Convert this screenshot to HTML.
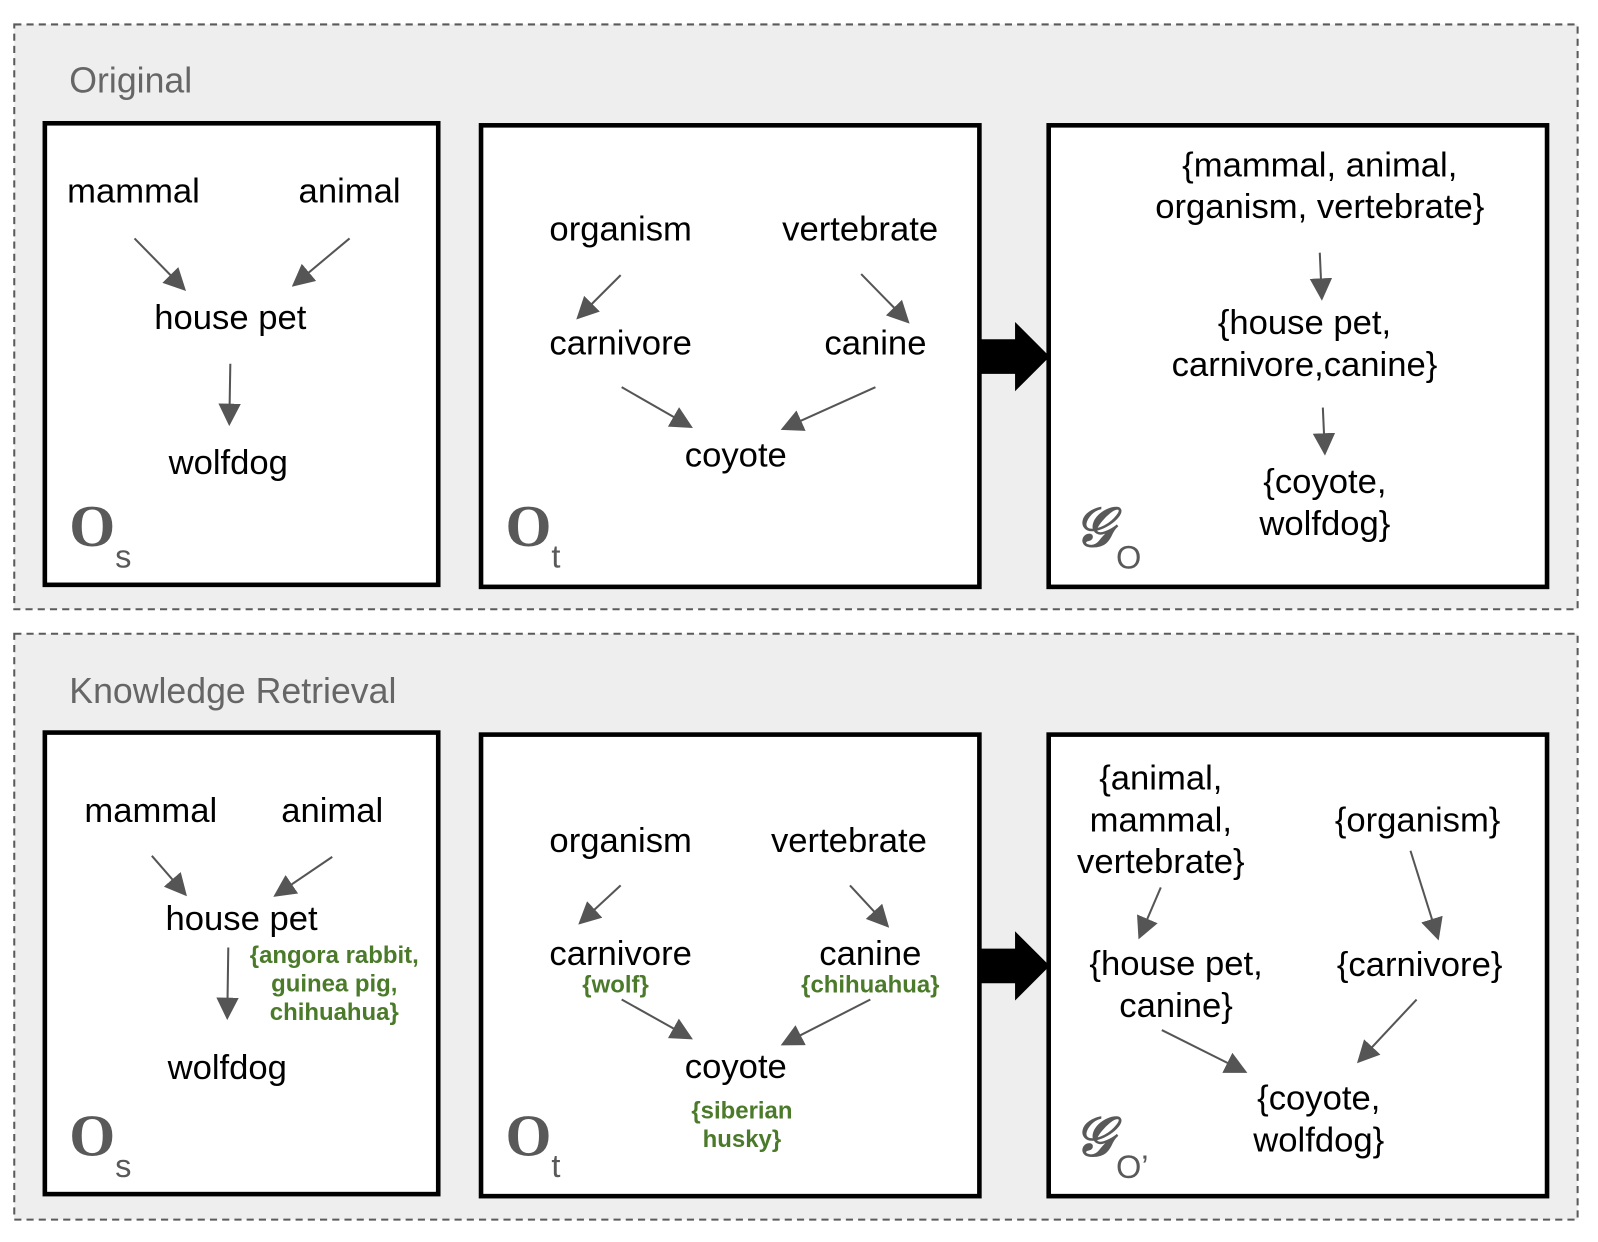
<!DOCTYPE html>
<html><head><meta charset="utf-8"><style>
html,body{margin:0;padding:0;background:#fff}
svg{display:block}
text{font-family:"Liberation Sans",sans-serif}
.t{font-size:34px;fill:#000;text-anchor:middle}
.g{font-size:23.5px;fill:#4a7a2a;font-weight:bold;text-anchor:middle}
.h{font-size:35px;fill:#666}
.big{font-family:"Liberation Serif",serif;font-weight:bold;font-size:58px;fill:#595959}
.sub{font-size:32px;fill:#595959}
.cal{font-family:"DejaVu Serif",serif;font-style:italic;font-weight:bold;font-size:54px;fill:#595959}
.b{fill:#fff;stroke:#000;stroke-width:4.5}
.a{stroke:#555;stroke-width:2;marker-end:url(#ah2)}
</style></head><body>
<svg width="1598" height="1242" viewBox="0 0 1568 1219" preserveAspectRatio="none" xmlns="http://www.w3.org/2000/svg">
<defs>
<marker id="ah2" viewBox="0 0 10 10" refX="9" refY="5" markerWidth="22" markerHeight="22" orient="auto" markerUnits="userSpaceOnUse"><path d="M0,0 L10,5 L0,10 z" fill="#555"/></marker></defs>
<rect x="14" y="24" width="1534" height="574" fill="#eeeeee" stroke="#5a5a5a" stroke-width="2" stroke-dasharray="7,5"/>
<rect x="14" y="622" width="1534" height="575" fill="#eeeeee" stroke="#5a5a5a" stroke-width="2" stroke-dasharray="7,5"/>
<text class="h" x="68" y="91">Original</text>
<text class="h" x="68" y="690">Knowledge Retrieval</text>

<rect class="b" x="44" y="121" width="386" height="453"/>
<rect class="b" x="472" y="123" width="489" height="453"/>
<rect class="b" x="1029" y="123" width="489" height="453"/>
<rect class="b" x="44" y="719" width="386" height="453"/>
<rect class="b" x="472" y="721" width="489" height="453"/>
<rect class="b" x="1029" y="721" width="489" height="453"/>

<path d="M961,333 H996 V316 L1030,350 L996,384 V367 H961 Z" fill="#000"/>
<path d="M961,931 H996 V914 L1030,948 L996,982 V965 H961 Z" fill="#000"/>

<text class="big" x="68" y="536">O</text><text class="sub" x="113" y="557">s</text>
<text class="big" x="496" y="536">O</text><text class="sub" x="541" y="557">t</text>
<text class="cal" x="1054" y="536">𝒢</text><text class="sub" x="1095" y="558">O</text>
<text class="big" x="68" y="1134">O</text><text class="sub" x="113" y="1155">s</text>
<text class="big" x="496" y="1134">O</text><text class="sub" x="541" y="1155">t</text>
<text class="cal" x="1054" y="1134">𝒢</text><text class="sub" x="1095" y="1156">O’</text>

<text class="t" x="131" y="199">mammal</text>
<text class="t" x="343" y="199">animal</text>
<text class="t" x="226" y="323">house pet</text>
<text class="t" x="224" y="465">wolfdog</text>
<line class="a" x1="132" y1="234" x2="181" y2="284"/>
<line class="a" x1="343" y1="234" x2="288" y2="280"/>
<line class="a" x1="226" y1="357" x2="225" y2="416"/>

<text class="t" x="609" y="236">organism</text>
<text class="t" x="844" y="236">vertebrate</text>
<text class="t" x="609" y="348">carnivore</text>
<text class="t" x="859" y="348">canine</text>
<text class="t" x="722" y="458">coyote</text>
<line class="a" x1="609" y1="270" x2="567" y2="312"/>
<line class="a" x1="845" y1="269" x2="891" y2="316"/>
<line class="a" x1="610" y1="380" x2="678" y2="419"/>
<line class="a" x1="859" y1="380" x2="768" y2="421"/>

<text class="t" x="1295" y="173">{mammal, animal,</text>
<text class="t" x="1295" y="214">organism, vertebrate}</text>
<text class="t" x="1280" y="328">{house pet,</text>
<text class="t" x="1280" y="369">carnivore,canine}</text>
<text class="t" x="1300" y="484">{coyote,</text>
<text class="t" x="1300" y="525">wolfdog}</text>
<line class="a" x1="1295" y1="248" x2="1297" y2="293"/>
<line class="a" x1="1298" y1="400" x2="1300" y2="445"/>

<text class="t" x="148" y="807">mammal</text>
<text class="t" x="326" y="807">animal</text>
<text class="t" x="237" y="913">house pet</text>
<text class="t" x="223" y="1059">wolfdog</text>
<text class="g" x="328" y="945">{angora rabbit,</text>
<text class="g" x="328" y="973">guinea pig,</text>
<text class="g" x="328" y="1001">chihuahua}</text>
<line class="a" x1="149" y1="840" x2="182" y2="878"/>
<line class="a" x1="326" y1="841" x2="270" y2="879"/>
<line class="a" x1="224" y1="930" x2="223" y2="999"/>

<text class="t" x="609" y="836">organism</text>
<text class="t" x="833" y="836">vertebrate</text>
<text class="t" x="609" y="947">carnivore</text>
<text class="t" x="854" y="947">canine</text>
<text class="g" x="604" y="974">{wolf}</text>
<text class="g" x="854" y="974">{chihuahua}</text>
<text class="t" x="722" y="1058">coyote</text>
<text class="g" x="728" y="1098">{siberian</text>
<text class="g" x="728" y="1126">husky}</text>
<line class="a" x1="609" y1="869" x2="569" y2="906"/>
<line class="a" x1="834" y1="869" x2="871" y2="909"/>
<line class="a" x1="610" y1="981" x2="678" y2="1019"/>
<line class="a" x1="854" y1="981" x2="768" y2="1025"/>

<text class="t" x="1139" y="775">{animal,</text>
<text class="t" x="1139" y="816">mammal,</text>
<text class="t" x="1139" y="857">vertebrate}</text>
<text class="t" x="1391" y="816">{organism}</text>
<text class="t" x="1154" y="957">{house pet,</text>
<text class="t" x="1154" y="998">canine}</text>
<text class="t" x="1393" y="958">{carnivore}</text>
<text class="t" x="1294" y="1089">{coyote,</text>
<text class="t" x="1294" y="1130">wolfdog}</text>
<line class="a" x1="1139" y1="871" x2="1118" y2="920"/>
<line class="a" x1="1384" y1="835" x2="1411" y2="921"/>
<line class="a" x1="1140" y1="1011" x2="1222" y2="1052"/>
<line class="a" x1="1390" y1="981" x2="1333" y2="1042"/>
</svg>
</body></html>
